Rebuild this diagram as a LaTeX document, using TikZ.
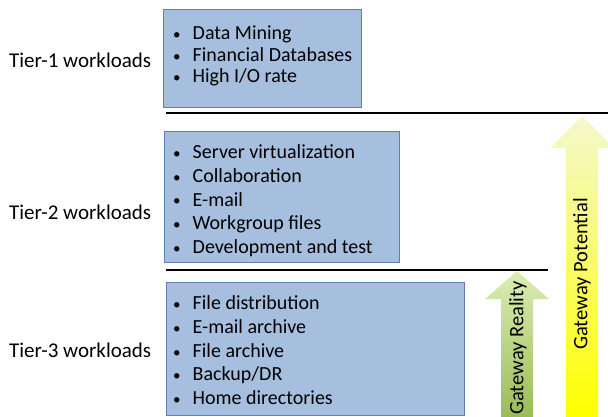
\documentclass[tikz,border=0pt]{standalone}
\usepackage{fontspec}
\setmainfont{Carlito}
\definecolor{boxfill}{RGB}{167,191,222}
\definecolor{boxdraw}{RGB}{95,127,175}
\definecolor{gtop}{RGB}{218,238,180}
\definecolor{gbot}{RGB}{155,187,89}
\definecolor{ytop}{RGB}{244,248,205}
\definecolor{ybot}{RGB}{255,255,0}
\tikzset{
  wbox/.style={draw=boxdraw, line width=1.2pt, fill=boxfill, inner sep=0pt, anchor=north west},
  tierlbl/.style={anchor=base west, inner sep=0pt, font=\fontsize{21}{24}\selectfont},
  blist/.style={anchor=base west, inner sep=0pt, align=left},
  sep/.style={line width=1.5pt, black},
  arrtxt/.style={rotate=90, inner sep=0pt, font=\fontsize{20.5}{24}\selectfont}
}
\newcommand{\bitem}[1]{\makebox[20.5pt][l]{\hspace{1pt}\scalebox{0.75}{\textbullet}}#1}
\begin{document}
\begin{tikzpicture}[x=1pt,y=-1pt]
\useasboundingbox (0,0) rectangle (608,417);
% boxes
\node[wbox, minimum width=198pt, minimum height=98pt] (b1) at (163,9) {};
\node[wbox, minimum width=235pt, minimum height=131pt] (b2) at (164,131) {};
\node[wbox, minimum width=298pt, minimum height=133pt] (b3) at (166,282) {};
% lists (anchored at the baseline of the last line)
\node[blist, font=\fontsize{20}{21.6}\selectfont] (l1) at (172,82.7) {\bitem{Data Mining}\\\bitem{Financial Databases}\\\bitem{High I/O rate}};
\node[blist, font=\fontsize{20}{23.75}\selectfont] (l2) at (172,253.5) {\bitem{Server virtualization}\\\bitem{Collaboration}\\\bitem{E-mail}\\\bitem{Workgroup files}\\\bitem{Development and test}};
\node[blist, font=\fontsize{20}{23.8}\selectfont] (l3) at (172,404.7) {\bitem{File distribution}\\\bitem{E-mail archive}\\\bitem{File archive}\\\bitem{Backup/DR}\\\bitem{Home directories}};
% tier labels
\node[tierlbl] (t1) at (9,68) {Tier-1 workloads};
\node[tierlbl] (t2) at (9,219) {Tier-2 workloads};
\node[tierlbl] (t3) at (9,357) {Tier-3 workloads};
% separators
\coordinate (s1a) at (166,113); \coordinate (s1b) at (608,113);
\coordinate (s2a) at (166,270); \coordinate (s2b) at (548,270);
\draw[sep] (s1a) -- (s1b);
\draw[sep] (s2a) -- (s2b);
% green arrow
\shade[top color=gtop, bottom color=gbot]
  (501,417) -- (501,299) -- (485,299) -- (517,271) -- (549,299) -- (533,299) -- (533,417) -- cycle;
\node[arrtxt] (gr) at (518,348) {Gateway Reality};
% yellow arrow
\shade[top color=ytop, bottom color=ybot]
  (566,417) -- (566,148) -- (550,148) -- (582,116) -- (614,148) -- (598,148) -- (598,417) -- cycle;
\node[arrtxt] (gp) at (582,274) {Gateway Potential};
\end{tikzpicture}
\end{document}
